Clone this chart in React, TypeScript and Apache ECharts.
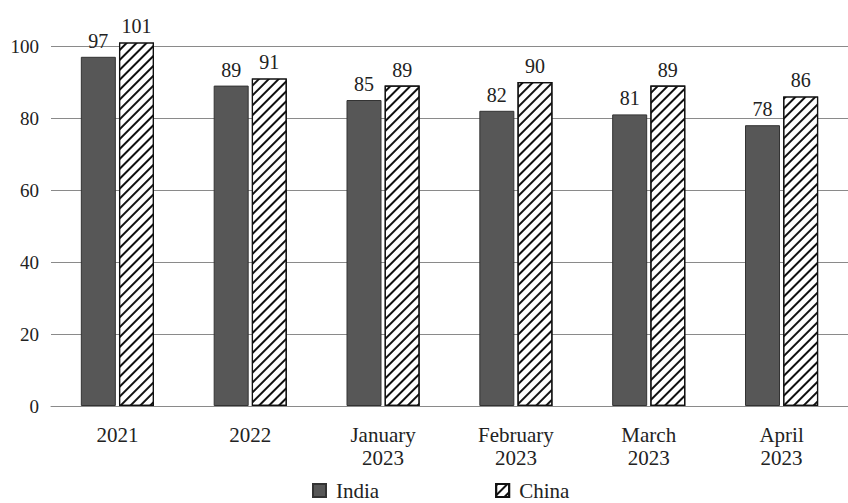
import React, { useEffect, useRef } from "react";
import * as echarts from "echarts";

const categories = ["2021", "2022", "January\n2023", "February\n2023", "March\n2023", "April\n2023"];
const indiaValues = [97, 89, 85, 82, 81, 78];
const chinaValues = [101, 91, 89, 90, 89, 86];
const yTicks = [0, 20, 40, 60, 80, 100];

const FONT = "Liberation Serif";

export default function App() {
  const ref = useRef<HTMLDivElement>(null);

  useEffect(() => {
    document.body.style.margin = "0";
    if (!ref.current) return;
    const chart = echarts.init(ref.current, null, { renderer: "svg" });

    // diagonal "/" hatching for the China bars
    const hatch = {
      symbol: "rect",
      symbolSize: 1,
      color: "#111",
      dashArrayX: [1, 0],
      dashArrayY: [2, 4.6],
      rotation: -Math.PI / 4,
    };

    const labelStyle = {
      show: true,
      position: "top",
      distance: 6,
      fontFamily: FONT,
      fontSize: 20,
      color: "#222",
    };

    chart.setOption({
      animation: false,
      backgroundColor: "#fff",
      textStyle: { fontFamily: FONT },
      grid: { left: 51, width: 812, top: 46, bottom: 97, containLabel: false },
      legend: {
        top: 475,
        left: 307,
        icon: "rect",
        itemWidth: 13,
        itemHeight: 13,
        itemGap: 116,
        textStyle: { fontFamily: FONT, fontSize: 21, color: "#222", padding: [0, 0, 0, 5] },
        data: ["India", "China"],
      },
      xAxis: {
        type: "category",
        data: categories,
        axisLine: { show: true, lineStyle: { color: "#8a8a8a", width: 1 } },
        axisTick: { show: false },
        axisLabel: {
          fontFamily: FONT,
          fontSize: 21,
          color: "#222",
          margin: 17,
          lineHeight: 23,
          interval: 0,
        },
      },
      yAxis: {
        type: "value",
        min: yTicks[0],
        max: yTicks[yTicks.length - 1],
        interval: 20,
        axisLine: { show: false },
        axisTick: { show: false },
        splitLine: { lineStyle: { color: "#8a8a8a", width: 1 } },
        axisLabel: { fontFamily: FONT, fontSize: 19, color: "#222", margin: 12 },
      },
      series: [
        {
          name: "India",
          type: "bar",
          data: indiaValues,
          barWidth: 35,
          barGap: "9%",
          clip: false,
          itemStyle: { color: "#575757", borderColor: "#333", borderWidth: 1 },
          label: labelStyle,
        },
        {
          name: "China",
          type: "bar",
          data: chinaValues,
          barWidth: 35,
          clip: false,
          itemStyle: { color: "#fff", borderColor: "#111", borderWidth: 1.2, decal: hatch },
          label: labelStyle,
        },
      ],
    });

    return () => chart.dispose();
  }, []);

  return <div ref={ref} style={{ width: 848, height: 503 }} />;
}
